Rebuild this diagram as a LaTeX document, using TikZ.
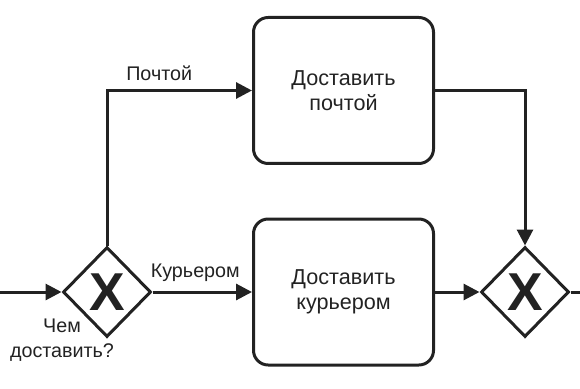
\documentclass[tikz,border=0pt]{standalone}
\usepackage{fontspec}
\setmainfont{Liberation Sans}
\usetikzlibrary{shapes.geometric,arrows.meta}
\definecolor{ink}{HTML}{222222}
\begin{document}
\begin{tikzpicture}[x=0.75pt,y=-0.75pt, >={Triangle[length=12pt,width=12pt]}, line join=miter,
	task/.style={draw=ink, line width=2.25pt, rounded corners=11pt, minimum width=135pt, minimum height=109.5pt, align=center, text=ink, font=\fontsize{16.2}{19}\selectfont},
	gateway/.style={diamond, draw=ink, line width=2.25pt, minimum width=66pt, minimum height=67.5pt, inner sep=0pt, text=ink, font=\fontsize{40}{40}\selectfont\bfseries},
	flow/.style={draw=ink, line width=2.25pt},
	lbl/.style={text=ink, font=\fontsize{14.8}{18.75}\selectfont, align=center}]
	% --- Khung hình ---
	\useasboundingbox (0,0) rectangle (580,388);
	
	% --- Các nút ---
	\node[task] (post) at (343.5,90.5) {Доставить\\почтой};
	\node[task] (courier) at (343.5,292) {Доставить\\курьером};
	\node[gateway] (split) at (107,292) {X};
	\node[gateway] (join) at (525,292) {X};
	\coordinate (start) at (0,292);
	\coordinate (finish) at (580,292);
	
	% --- Các luồng ---
	\draw[flow,->] (start) -- (split.west);
	\draw[flow,->] (split.north) |- (post.west) node[lbl, pos=0.68, above=3pt] (lpost) {Почтой};
	\draw[flow,->] (split.east) -- (courier.west) node[lbl, pos=0.43, above=3pt] (lcourier) {Курьером};
	\draw[flow,->] (post.east) -| (join.north);
	\draw[flow,->] (courier.east) -- (join.west);
	\draw[flow] (join.east) -- (finish);
	
	% --- Câu hỏi ---
	\node[lbl] (ask) at (62,340) {Чем\\доставить?};
\end{tikzpicture}
\end{document}
